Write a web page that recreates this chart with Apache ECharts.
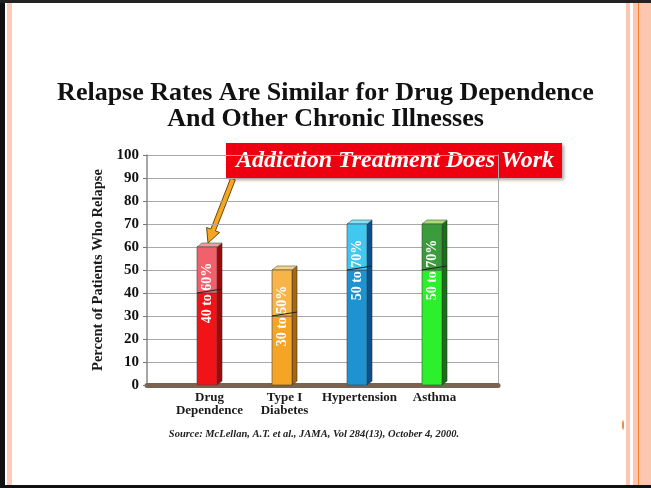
<!DOCTYPE html>
<html>
<head>
<meta charset="utf-8">
<script src="https://cdn.jsdelivr.net/npm/echarts@6/dist/echarts.min.js"></script>
<style>
  html, body { margin: 0; padding: 0; background: #fff; }
  #chart { width: 651px; height: 488px; }
</style>
</head>
<body>
<div id="chart"></div>
<script>
// data
var categories = ['Drug\nDependence', 'Type I\nDiabetes', 'Hypertension', 'Asthma'];
var lowValues = [40, 30, 50, 50];
var highValues = [60, 50, 70, 70];
var rangeLabels = ['40 to 60%', '30 to 50%', '50 to 70%', '50 to 70%'];

// bar colours: front lower part, front upper part, side, top
var palette = [
  { low: '#f01418', high: '#f2606c', side: '#9c0a0a', top: '#f79aa0' },
  { low: '#f5a426', high: '#f7b448', side: '#a8680a', top: '#fbd08a' },
  { low: '#1e93d2', high: '#40c8f0', side: '#0b4f8c', top: '#86e0f8' },
  { low: '#2cf02c', high: '#3c9c3c', side: '#167016', top: '#a8e070' }
];

var serif = '"Liberation Serif", "Times New Roman", serif';
var chart = echarts.init(document.getElementById('chart'));

function renderBar(params, api) {
  var i = api.value(0), lo = api.value(1), hi = api.value(2);
  var base = api.coord([i, 0]);
  var pLo = api.coord([i, lo]);
  var pHi = api.coord([i, hi]);
  var w = 20, dx = 5, dy = 4;
  var x0 = base[0] - w / 2;
  var c = palette[i];
  return {
    type: 'group',
    children: [
      { type: 'polygon', shape: { points: [[x0 + w, pHi[1]], [x0 + w + dx, pHi[1] - dy], [x0 + w + dx, base[1] - dy], [x0 + w, base[1]]] },
        style: { fill: c.side, stroke: '#333', lineWidth: 0.6 } },
      { type: 'polygon', shape: { points: [[x0, pHi[1]], [x0 + dx, pHi[1] - dy], [x0 + w + dx, pHi[1] - dy], [x0 + w, pHi[1]]] },
        style: { fill: c.top, stroke: '#555', lineWidth: 0.6 } },
      { type: 'rect', shape: { x: x0, y: pLo[1], width: w, height: base[1] - pLo[1] },
        style: { fill: c.low, stroke: '#444', lineWidth: 0.6 } },
      { type: 'rect', shape: { x: x0, y: pHi[1], width: w, height: pLo[1] - pHi[1] },
        style: { fill: c.high, stroke: '#444', lineWidth: 0.6 } },
      { type: 'line', shape: { x1: x0, y1: pLo[1], x2: x0 + w + dx, y2: pLo[1] - dy },
        style: { stroke: '#222', lineWidth: 1 } },
      { type: 'text', x: base[0], y: pLo[1], rotation: Math.PI / 2,
        style: { text: rangeLabels[i], x: 0, y: 0, fill: '#fff', align: 'center', verticalAlign: 'middle',
          font: 'bold 14px ' + serif, shadowColor: 'rgba(0,0,0,0.85)', shadowBlur: 1, shadowOffsetX: 1, shadowOffsetY: 1 } }
    ]
  };
}

var option = {
  animation: false,
  title: {
    text: 'Relapse Rates Are Similar for Drug Dependence\nAnd Other Chronic Illnesses',
    left: 'center',
    top: 75,
    textStyle: { fontFamily: serif, fontWeight: 'bold', fontSize: 26, lineHeight: 26, color: '#111' }
  },
  grid: [
    { left: 147, right: 153, top: 155, bottom: 103 },
    { left: 169.5, right: 181.5, top: 155, bottom: 103 }
  ],
  xAxis: [
    { gridIndex: 0, type: 'category', data: categories, boundaryGap: true,
      axisLine: { show: true, lineStyle: { color: '#7a6450', width: 5 } },
      axisTick: { show: false }, axisLabel: { show: false }, splitLine: { show: false } },
    { gridIndex: 1, type: 'category', data: categories, boundaryGap: true,
      axisLine: { show: false },
      axisTick: { show: true, length: 3, lineStyle: { color: '#666' } },
      axisLabel: { interval: 0, margin: 6, fontFamily: serif, fontWeight: 'bold', fontSize: 13, lineHeight: 13, color: '#1a1a1a', padding: [0, 0, 0, 5] } }
  ],
  yAxis: [
    { gridIndex: 0, type: 'value', min: 0, max: 100, interval: 10,
      name: 'Percent of Patients Who Relapse', nameLocation: 'middle', nameGap: 40, nameRotate: 90,
      nameTextStyle: { fontFamily: serif, fontWeight: 'bold', fontSize: 14.5, color: '#1a1a1a' },
      axisLine: { show: true, lineStyle: { color: '#888', width: 1.5 } },
      axisTick: { show: true, length: 4, lineStyle: { color: '#777' } },
      axisLabel: { margin: 8, fontFamily: serif, fontWeight: 'bold', fontSize: 15, color: '#111' },
      splitLine: { show: true, lineStyle: { color: '#a8a8a8', width: 1 } } },
    { gridIndex: 0, type: 'value', min: 0, max: 100, interval: 10, position: 'right',
      axisLine: { show: true, lineStyle: { color: '#a8a8a8', width: 1 } },
      axisTick: { show: false }, axisLabel: { show: false }, splitLine: { show: false } },
    { gridIndex: 1, type: 'value', min: 0, max: 100, interval: 10, show: false }
  ],
  series: [
    { type: 'custom', xAxisIndex: 1, yAxisIndex: 2, renderItem: renderBar,
      encode: { x: 0, y: [1, 2] },
      data: categories.map(function (c, i) { return [i, lowValues[i], highValues[i]]; }) }
  ],
  graphic: [
    // slide frame
    { type: 'rect', left: 0, top: 0, shape: { width: 5, height: 488 }, style: { fill: '#111' } },
    { type: 'rect', left: 0, top: 0, shape: { width: 651, height: 3 }, style: { fill: '#222' } },
    { type: 'rect', left: 0, top: 485, shape: { width: 651, height: 3 }, style: { fill: '#111' } },
    { type: 'rect', left: 7, top: 3, shape: { width: 5, height: 482 }, style: { fill: '#fdcbb8' } },
    { type: 'rect', left: 626, top: 3, shape: { width: 4, height: 482 }, style: { fill: '#fdc6b0' } },
    { type: 'rect', left: 633, top: 3, shape: { width: 18, height: 482 }, style: { fill: '#fdc6b0' } },
    { type: 'rect', left: 638, top: 3, shape: { width: 1, height: 482 }, style: { fill: '#f5842e' } },
    { type: 'ellipse', shape: { cx: 623, cy: 425, rx: 1, ry: 5 }, style: { fill: '#e8884a' } },
    // callout
    { type: 'rect', shape: { x: 226, y: 143, width: 336, height: 35 },
      style: { fill: '#ee0010', shadowColor: 'rgba(0,0,0,0.35)', shadowBlur: 3, shadowOffsetX: 2, shadowOffsetY: 2 } },
    { type: 'text', x: 395, y: 161,
      style: { text: 'Addiction Treatment Does Work', fill: '#fff', align: 'center', verticalAlign: 'middle',
        font: 'italic bold 24px ' + serif, shadowColor: 'rgba(0,0,0,0.8)', shadowBlur: 1, shadowOffsetX: 1.5, shadowOffsetY: 1.5 } },
    { type: 'polygon',
      shape: { points: [[235.3, 179.9], [230.7, 178.1], [210.8, 229.1], [206.6, 227.5], [208, 243], [219.6, 232.5], [215.4, 230.9]] },
      style: { fill: '#f5a623', stroke: '#6b4a00', lineWidth: 1 } },
    // source note
    { type: 'text', x: 314, y: 434,
      style: { text: 'Source: McLellan, A.T. et al., JAMA, Vol 284(13), October 4, 2000.', fill: '#222', align: 'center', verticalAlign: 'middle',
        font: 'italic bold 10.5px ' + serif } }
  ]
};

chart.setOption(option);
</script>
</body>
</html>
